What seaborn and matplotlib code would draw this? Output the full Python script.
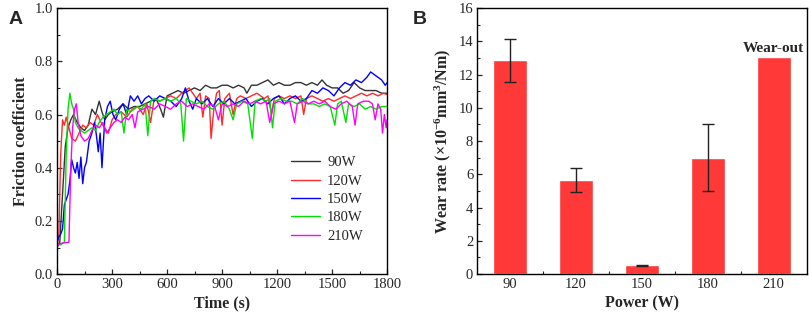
import numpy as np
import pandas as pd
import matplotlib
matplotlib.use("Agg")
import matplotlib.pyplot as plt
from matplotlib.ticker import MultipleLocator, FixedLocator
import seaborn as sns

# --- data ---
# (A) friction coefficient traces, time (s) / value
t_90 = [0, 15, 30, 45, 60, 75, 90, 110, 130, 150,
        170, 190, 210, 230, 245, 260, 280, 300, 330, 360,
        390, 420, 450, 480, 510, 540, 565, 580, 600, 630,
        660, 690, 720, 750, 780, 810, 840, 870, 900, 930,
        960, 990, 1020, 1035, 1060, 1090, 1120, 1150, 1180, 1210,
        1240, 1270, 1300, 1330, 1360, 1390, 1420, 1445, 1470, 1500,
        1530, 1560, 1590, 1620, 1650, 1680, 1710, 1740, 1770, 1800]
mu_90 = [0.10, 0.12, 0.30, 0.48, 0.55, 0.58, 0.60, 0.57, 0.55, 0.54,
         0.56, 0.62, 0.60, 0.65, 0.61, 0.58, 0.60, 0.61, 0.62, 0.64,
         0.62, 0.63, 0.63, 0.64, 0.65, 0.66, 0.62, 0.59, 0.67, 0.68,
         0.69, 0.68, 0.69, 0.70, 0.69, 0.71, 0.70, 0.70, 0.71, 0.71,
         0.70, 0.71, 0.70, 0.68, 0.71, 0.71, 0.72, 0.73, 0.71, 0.72,
         0.71, 0.71, 0.72, 0.72, 0.71, 0.72, 0.71, 0.73, 0.71, 0.70,
         0.70, 0.68, 0.69, 0.72, 0.70, 0.69, 0.69, 0.69, 0.68, 0.68]

t_120 = [0, 10, 20, 30, 40, 50, 65, 80, 100, 120,
         140, 160, 180, 200, 220, 240, 260, 280, 300, 320,
         350, 380, 410, 440, 470, 490, 510, 530, 560, 590,
         620, 650, 680, 700, 720, 740, 760, 780, 795, 810,
         830, 840, 855, 870, 885, 900, 915, 940, 960, 980,
         1000, 1030, 1060, 1090, 1110, 1130, 1150, 1170, 1185, 1210,
         1240, 1270, 1300, 1330, 1345, 1360, 1390, 1420, 1450, 1480,
         1510, 1540, 1570, 1600, 1630, 1660, 1690, 1720, 1750, 1780,
         1800]
mu_120 = [0.10, 0.15, 0.45, 0.58, 0.56, 0.59, 0.55, 0.51, 0.50, 0.53,
          0.56, 0.55, 0.57, 0.56, 0.60, 0.57, 0.55, 0.53, 0.58, 0.60,
          0.61, 0.59, 0.62, 0.63, 0.60, 0.64, 0.57, 0.66, 0.65, 0.66,
          0.67, 0.66, 0.68, 0.69, 0.70, 0.68, 0.66, 0.68, 0.59, 0.67,
          0.66, 0.51, 0.62, 0.68, 0.69, 0.56, 0.66, 0.68, 0.60, 0.66,
          0.67, 0.66, 0.67, 0.68, 0.67, 0.66, 0.67, 0.60, 0.66, 0.67,
          0.66, 0.67, 0.66, 0.67, 0.60, 0.66, 0.67, 0.66, 0.65, 0.66,
          0.65, 0.66, 0.67, 0.66, 0.67, 0.68, 0.67, 0.68, 0.67, 0.68,
          0.675]

t_150 = [0, 10, 20, 30, 40, 50, 60, 70, 80, 90,
         100, 110, 120, 130, 140, 150, 160, 175, 190, 205,
         215, 225, 235, 245, 260, 275, 290, 305, 320, 340,
         360, 380, 400, 420, 440, 460, 480, 500, 530, 560,
         590, 620, 650, 680, 700, 720, 740, 760, 790, 820,
         850, 880, 910, 940, 970, 1000, 1030, 1060, 1090, 1120,
         1150, 1180, 1210, 1240, 1270, 1300, 1330, 1360, 1390, 1420,
         1450, 1480, 1510, 1540, 1570, 1600, 1630, 1660, 1690, 1710,
         1730, 1750, 1770, 1790, 1800]
mu_150 = [0.12, 0.14, 0.15, 0.17, 0.26, 0.28, 0.30, 0.35, 0.43, 0.40,
          0.38, 0.42, 0.36, 0.44, 0.34, 0.40, 0.42, 0.50, 0.53, 0.57,
          0.52, 0.46, 0.53, 0.40, 0.58, 0.63, 0.65, 0.60, 0.58, 0.62,
          0.64, 0.60, 0.67, 0.65, 0.67, 0.64, 0.66, 0.67, 0.65, 0.67,
          0.66, 0.65, 0.63, 0.66, 0.70, 0.65, 0.62, 0.66, 0.64, 0.66,
          0.63, 0.66, 0.64, 0.66, 0.64, 0.65, 0.66, 0.63, 0.65, 0.66,
          0.64, 0.66, 0.67, 0.64, 0.66, 0.67, 0.65, 0.66, 0.69, 0.68,
          0.70, 0.69, 0.67, 0.70, 0.72, 0.71, 0.73, 0.72, 0.74, 0.76,
          0.75, 0.74, 0.73, 0.71, 0.72]

t_180 = [0, 20, 40, 50, 60, 70, 80, 90, 100, 115,
         130, 150, 170, 190, 210, 230, 250, 270, 290, 310,
         330, 350, 365, 380, 400, 420, 440, 460, 480, 495,
         510, 530, 560, 590, 620, 650, 675, 690, 705, 730,
         760, 790, 820, 850, 880, 910, 940, 960, 980, 1010,
         1040, 1065, 1080, 1110, 1140, 1160, 1175, 1190, 1220, 1250,
         1280, 1310, 1340, 1370, 1400, 1430, 1460, 1490, 1515, 1530,
         1550, 1575, 1590, 1620, 1650, 1680, 1710, 1740, 1770, 1800]
mu_180 = [0.11, 0.11, 0.12, 0.45, 0.62, 0.68, 0.64, 0.62, 0.57, 0.55,
          0.54, 0.53, 0.54, 0.55, 0.54, 0.57, 0.59, 0.60, 0.61, 0.62,
          0.60, 0.61, 0.53, 0.62, 0.61, 0.62, 0.63, 0.62, 0.64, 0.52,
          0.65, 0.66, 0.65, 0.66, 0.65, 0.66, 0.64, 0.50, 0.66, 0.65,
          0.64, 0.65, 0.63, 0.62, 0.64, 0.65, 0.62, 0.58, 0.64, 0.65,
          0.64, 0.51, 0.65, 0.66, 0.65, 0.66, 0.55, 0.65, 0.66, 0.65,
          0.65, 0.64, 0.66, 0.64, 0.64, 0.63, 0.64, 0.63, 0.56, 0.64,
          0.65, 0.57, 0.64, 0.63, 0.64, 0.62, 0.63, 0.62, 0.63, 0.63]

t_210 = [0, 20, 40, 65, 75, 85, 95, 105, 115, 130,
         150, 170, 190, 210, 230, 250, 270, 290, 310, 330,
         350, 370, 390, 410, 425, 440, 470, 500, 530, 560,
         590, 620, 650, 680, 710, 740, 770, 800, 830, 860,
         880, 900, 930, 960, 990, 1020, 1050, 1080, 1110, 1140,
         1160, 1180, 1210, 1240, 1270, 1295, 1310, 1340, 1370, 1400,
         1430, 1460, 1490, 1520, 1550, 1580, 1610, 1625, 1640, 1670,
         1700, 1720, 1735, 1750, 1765, 1775, 1785, 1795, 1800]
mu_210 = [0.11, 0.115, 0.118, 0.12, 0.40, 0.55, 0.62, 0.64, 0.57, 0.52,
          0.50, 0.51, 0.54, 0.56, 0.55, 0.57, 0.53, 0.55, 0.57, 0.58,
          0.57, 0.59, 0.58, 0.60, 0.55, 0.61, 0.62, 0.63, 0.62, 0.64,
          0.63, 0.62, 0.64, 0.65, 0.63, 0.64, 0.63, 0.62, 0.64, 0.63,
          0.58, 0.64, 0.63, 0.64, 0.63, 0.65, 0.64, 0.65, 0.64, 0.65,
          0.57, 0.64, 0.65, 0.64, 0.65, 0.57, 0.64, 0.65, 0.64, 0.65,
          0.64, 0.65, 0.63, 0.62, 0.64, 0.65, 0.63, 0.56, 0.64, 0.65,
          0.65, 0.64, 0.58, 0.64, 0.62, 0.53, 0.60, 0.55, 0.58]

series_labels = ["90W", "120W", "150W", "180W", "210W"]
series_colors = ["#333333", "#FF2A2A", "#0000FF", "#00E000", "#FF00FF"]

# (B) wear rate per power
power = ["90", "120", "150", "180", "210"]
wear_rate = [12.85, 5.68, 0.54, 7.0, 13.05]
wear_err = [1.32, 0.72, 0.03, 2.0, 0.0]

# --- style ---
sns.set_style("ticks")
plt.rcParams["font.family"] = ["Liberation Serif", "DejaVu Serif"]
plt.rcParams["mathtext.fontset"] = "custom"
plt.rcParams["mathtext.rm"] = "Liberation Serif"
plt.rcParams["mathtext.bf"] = "Liberation Serif:bold"
plt.rcParams["mathtext.default"] = "bf"
plt.rcParams["xtick.direction"] = "in"
plt.rcParams["ytick.direction"] = "in"

frames = []
for lab, t, mu in zip(series_labels, [t_90, t_120, t_150, t_180, t_210],
                      [mu_90, mu_120, mu_150, mu_180, mu_210]):
    assert len(t) == len(mu), lab
    frames.append(pd.DataFrame({"t": t, "mu": mu, "power": lab}))
df = pd.concat(frames, ignore_index=True)

fig = plt.figure(figsize=(8.09, 3.24), dpi=100)
ax1 = fig.add_axes([0.0705, 0.154, 0.408, 0.821])
ax2 = fig.add_axes([0.590, 0.154, 0.407, 0.821])

# ---- panel A ----
sns.lineplot(data=df, x="t", y="mu", hue="power", hue_order=series_labels,
             palette=dict(zip(series_labels, series_colors)), estimator=None,
             sort=False, lw=1.0, ax=ax1)
ax1.set_xlim(0, 1800)
ax1.set_ylim(0, 1.0)
ax1.xaxis.set_major_locator(MultipleLocator(300))
ax1.xaxis.set_minor_locator(MultipleLocator(150))
ax1.yaxis.set_major_locator(MultipleLocator(0.2))
ax1.yaxis.set_minor_locator(MultipleLocator(0.1))
ax1.yaxis.set_major_formatter(matplotlib.ticker.FormatStrFormatter("%.1f"))
ax1.set_xlabel("Time (s)", fontsize=11.5, fontweight="bold", labelpad=3)
ax1.set_ylabel("Friction coefficient", fontsize=11.5, fontweight="bold", labelpad=4)
leg = ax1.legend(loc="upper left", bbox_to_anchor=(0.69, 0.465), frameon=False,
                 fontsize=10.5, handlelength=2.0, handletextpad=0.5,
                 labelspacing=0.35, borderaxespad=0)
for h in leg.get_lines():
    h.set_linewidth(1.0)

# ---- panel B ----
sns.barplot(x=power, y=wear_rate, color="#FF3838", saturation=1, width=0.52, ax=ax2)
ax2.errorbar(range(4), wear_rate[:4], yerr=wear_err[:4], fmt="none",
             ecolor="#222222", elinewidth=1.0, capsize=4, capthick=1.0)
ax2.text(4, 13.6, "Wear-out", ha="center", va="center", fontsize=11,
         fontweight="bold")
ax2.set_xlim(-0.5, 4.5)
ax2.set_ylim(0, 16)
ax2.yaxis.set_major_locator(MultipleLocator(2))
ax2.yaxis.set_minor_locator(MultipleLocator(1))
ax2.xaxis.set_minor_locator(FixedLocator([0.5, 1.5, 2.5, 3.5]))
ax2.set_xlabel("Power (W)", fontsize=11.5, fontweight="bold", labelpad=3)
ax2.set_ylabel(r"Wear rate (×10$^{-6}$mm$^{3}$/Nm)", fontsize=11.5,
               fontweight="bold", labelpad=4)

for ax in (ax1, ax2):
    for s in ax.spines.values():
        s.set_visible(True)
        s.set_linewidth(1.0)
        s.set_color("black")
    ax.tick_params(which="major", length=3.5, width=0.9, labelsize=10.5,
                   top=False, right=False, pad=3)
    ax.tick_params(which="minor", length=2, width=0.8, top=False, right=False)

fig.text(0.010, 0.965, "A", fontsize=14, fontweight="bold",
         family="Liberation Sans", va="top")
fig.text(0.510, 0.965, "B", fontsize=14, fontweight="bold",
         family="Liberation Sans", va="top")

fig.savefig("out.png", dpi=100)
